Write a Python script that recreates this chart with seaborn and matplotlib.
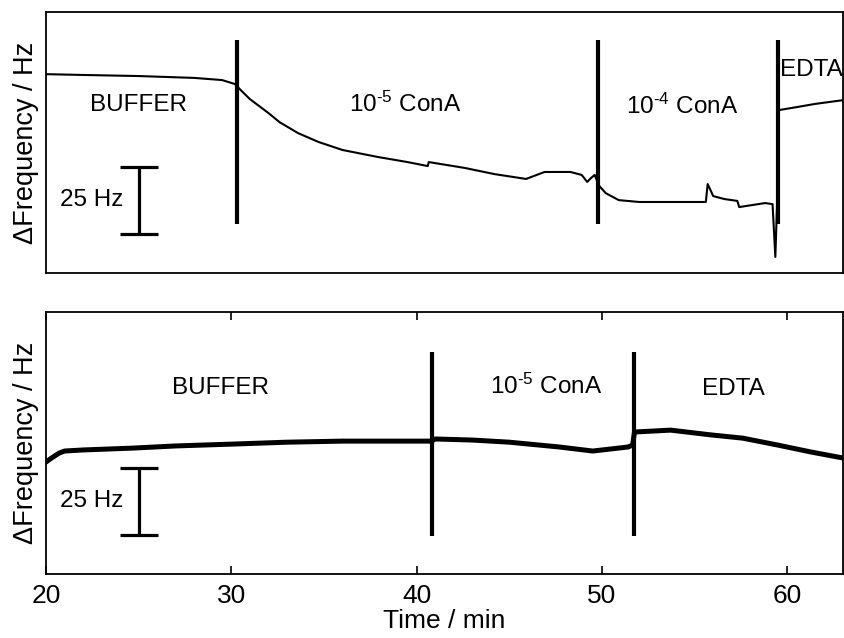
import numpy as np
import pandas as pd
import matplotlib
matplotlib.use("Agg")
import matplotlib.pyplot as plt
import seaborn as sns

# ---------------- data ----------------
# top panel: time (min) and frequency shift (Hz, arbitrary offset)
top_time = [20.0, 22.0, 25.0, 28.0, 29.5, 30.2, 30.5, 31.0, 31.5, 32.0, 32.6,
            33.6, 34.7, 36.0, 37.9, 39.5, 40.6, 40.65, 42.6, 44.2, 45.9, 46.9,
            48.3, 48.9, 49.2, 49.4, 49.6, 49.85, 50.2, 50.9, 52.0, 53.0, 55.6,
            55.7, 56.0, 56.6, 57.3, 57.4, 58.8, 59.2, 59.35, 59.45, 59.55,
            60.5, 61.5, 63.0]
top_freq = [74.2, 73.9, 73.5, 72.8, 72.0, 70.5, 68.3, 64.9, 62.3, 59.7, 56.3,
            52.2, 48.9, 45.9, 43.3, 41.4, 39.9, 41.4, 39.2, 36.9, 35.1, 37.7,
            37.7, 36.6, 34.0, 35.4, 36.6, 32.5, 29.8, 27.2, 26.5, 26.5, 26.5,
            33.2, 28.7, 27.6, 26.9, 24.6, 26.1, 25.7, 6.0, 27.2, 60.8,
            61.9, 63.1, 64.5]
top_events = [30.3, 49.8, 59.5]
top_labels = ["BUFFER", "10$^{\u20105}$ ConA", "10$^{\u20104}$ ConA", "EDTA"]
top_label_x = [25.0, 39.4, 54.3, 61.3]
top_label_y = [62.7, 63.0, 62.3, 75.9]

# bottom panel
bot_time = [20.0, 20.3, 20.7, 21.0, 22.0, 24.7, 27.0, 30.1, 33.0, 36.0, 39.0,
            40.8, 41.0, 43.0, 45.0, 47.7, 49.5, 51.4, 51.65, 51.75, 53.7,
            55.9, 57.6, 59.5, 61.3, 63.0]
bot_freq = [41.8, 43.3, 45.1, 45.9, 46.3, 47.0, 47.8, 48.5, 49.2, 49.6, 49.6,
            49.6, 50.4, 50.0, 49.2, 47.4, 45.9, 47.4, 48.1, 53.0, 53.7,
            51.9, 50.7, 48.1, 45.5, 43.3]
bot_events = [40.8, 51.7]
bot_labels = ["BUFFER", "10$^{\u20105}$ ConA", "EDTA"]
bot_label_x = [29.4, 47.0, 57.1]
bot_label_y = [69.4, 70.0, 69.0]

scale_bar_hz = 25
x_ticks = [20, 30, 40, 50, 60]

# ---------------- style ----------------
sns.set_theme(style="white")
plt.rcParams["font.family"] = ["Liberation Sans", "DejaVu Sans"]
plt.rcParams["mathtext.fontset"] = "custom"
plt.rcParams["mathtext.rm"] = "Liberation Sans"
plt.rcParams["mathtext.it"] = "Liberation Sans"
plt.rcParams["mathtext.bf"] = "Liberation Sans"
plt.rcParams["mathtext.default"] = "regular"
plt.rcParams["text.color"] = "black"
plt.rcParams["axes.labelcolor"] = "black"
plt.rcParams["xtick.color"] = "black"

fig = plt.figure(figsize=(8.44, 6.38), dpi=100)
ax_top = fig.add_axes([0.0545, 0.5721, 0.9443, 0.4091])
ax_bot = fig.add_axes([0.0545, 0.1003, 0.9443, 0.4107])

XLIM = (20, 63)
label_fs = 19
ylabel_fs = 19.5
text_fs = 17.5


def setup(ax, ylim):
    ax.set_xlim(*XLIM)
    ax.set_ylim(*ylim)
    for s in ax.spines.values():
        s.set_color("black")
        s.set_linewidth(1.3)
    ax.set_yticks([])
    ax.set_ylabel("\u0394Frequency / Hz", fontsize=ylabel_fs, labelpad=5)


def scale_bar(ax, y0):
    ax.plot([25.0, 25.0], [y0, y0 + scale_bar_hz], color="black", lw=2.3,
            solid_capstyle="butt")
    for yy in (y0, y0 + scale_bar_hz):
        ax.plot([24.0, 26.05], [yy, yy], color="black", lw=2.3,
                solid_capstyle="butt")
    ax.text(24.15, y0 + scale_bar_hz / 2, "25 Hz", ha="right", va="center",
            fontsize=text_fs)


# top panel
df_top = pd.DataFrame({"t": top_time, "f": top_freq})
sns.lineplot(data=df_top, x="t", y="f", ax=ax_top, color="black", lw=1.5,
             estimator=None, sort=False)
setup(ax_top, (0, 97.4))
ax_top.set_xticks([])
ax_top.set_xlabel("")
for xe in top_events:
    ax_top.plot([xe, xe], [18.3, 86.9], color="black", lw=3, solid_capstyle="butt")
for lab, lx, ly in zip(top_labels, top_label_x, top_label_y):
    ax_top.text(lx, ly, lab, ha="center", va="center", fontsize=text_fs)
scale_bar(ax_top, 14.6)

# bottom panel
df_bot = pd.DataFrame({"t": bot_time, "f": bot_freq})
sns.lineplot(data=df_bot, x="t", y="f", ax=ax_bot, color="black", lw=3.6,
             estimator=None, sort=False)
setup(ax_bot, (0, 97.8))
for xe in bot_events:
    ax_bot.plot([xe, xe], [14.2, 82.8], color="black", lw=3, solid_capstyle="butt")
for lab, lx, ly in zip(bot_labels, bot_label_x, bot_label_y):
    ax_bot.text(lx, ly, lab, ha="center", va="center", fontsize=text_fs)
scale_bar(ax_bot, 14.6)

ax_bot.set_xticks(x_ticks)
ax_bot.tick_params(axis="x", direction="in", length=6, width=1.2, top=True,
                   bottom=True, labelsize=label_fs, pad=7, colors="black")
ax_bot.set_xlabel("Time / min", fontsize=label_fs, labelpad=1)

fig.savefig("out.png", dpi=100)
